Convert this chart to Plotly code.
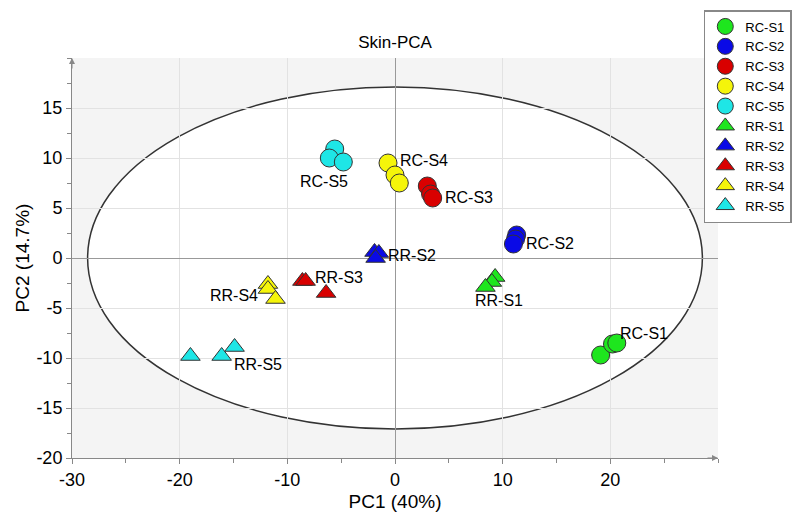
import plotly.graph_objects as go

# ---------------- data ----------------
groups = ["RC-S1", "RC-S2", "RC-S3", "RC-S4", "RC-S5",
          "RR-S1", "RR-S2", "RR-S3", "RR-S4", "RR-S5"]

rc_s1_x = [19.1, 20.2, 20.6]
rc_s1_y = [-9.7, -8.6, -8.5]
rc_s2_x = [11.3, 11.2, 11.0]
rc_s2_y = [2.3, 1.9, 1.4]
rc_s3_x = [3.0, 3.3, 3.5]
rc_s3_y = [7.2, 6.4, 6.0]
rc_s4_x = [-0.65, 0.0, 0.4]
rc_s4_y = [9.5, 8.3, 7.5]
rc_s5_x = [-5.6, -6.1, -4.8]
rc_s5_y = [10.9, 10.0, 9.6]

rr_s1_x = [9.3, 9.0, 8.4]
rr_s1_y = [-1.9, -2.4, -2.9]
rr_s2_x = [-1.9, -1.5, -1.8]
rr_s2_y = [0.6, 0.5, 0.0]
rr_s3_x = [-8.6, -8.3, -6.4]
rr_s3_y = [-2.3, -2.3, -3.5]
rr_s4_x = [-11.8, -11.8, -11.1]
rr_s4_y = [-2.6, -3.1, -4.1]
rr_s5_x = [-19.0, -16.1, -14.9]
rr_s5_y = [-9.8, -9.8, -8.9]

xs = [rc_s1_x, rc_s2_x, rc_s3_x, rc_s4_x, rc_s5_x,
      rr_s1_x, rr_s2_x, rr_s3_x, rr_s4_x, rr_s5_x]
ys = [rc_s1_y, rc_s2_y, rc_s3_y, rc_s4_y, rc_s5_y,
      rr_s1_y, rr_s2_y, rr_s3_y, rr_s4_y, rr_s5_y]

# label anchor positions (data coords)
label_x = [23.1, 14.4, 6.9, 2.7, -6.6, 9.65, 1.6, -5.2, -15.0, -12.7]
label_y = [-7.5, 1.5, 6.1, 9.8, 7.7, -4.2, 0.3, -1.9, -3.7, -10.6]

ellipse_a = 28.55
ellipse_b = 17.1

x_ticks = [-30, -20, -10, 0, 10, 20]
y_ticks = [-20, -15, -10, -5, 0, 5, 10, 15]

# ---------------- style ----------------
colors = ["#1ee61e", "#0a0ae6", "#d90000", "#f5f50a", "#1ee6e6"]
FONT = "Liberation Sans, Arial, sans-serif"

fig = go.Figure()

for i, name in enumerate(groups):
    is_rc = name.startswith("RC")
    fig.add_trace(go.Scatter(
        x=xs[i], y=ys[i], mode="markers", name=name,
        marker=dict(
            symbol="circle" if is_rc else "triangle-up",
            size=18 if is_rc else 17,
            color=colors[i % 5],
            line=dict(color="#333333", width=1),
        ),
    ))

for i, name in enumerate(groups):
    fig.add_annotation(x=label_x[i], y=label_y[i], text=name, showarrow=False,
                       xref="x", yref="y", font=dict(size=16, color="black", family=FONT),
                       xanchor="center", yanchor="middle")

# Hotelling ellipse (white interior)
fig.add_shape(type="circle", xref="x", yref="y",
              x0=-ellipse_a, x1=ellipse_a, y0=-ellipse_b, y1=ellipse_b,
              fillcolor="white", line=dict(color="#333333", width=1.5), layer="below")

# axis arrows
fig.add_annotation(xref="paper", yref="paper", x=0, y=1.0, ax=0, ay=12,
                   axref="pixel", ayref="pixel", text="", showarrow=True,
                   arrowhead=2, arrowsize=1.2, arrowwidth=1, arrowcolor="#888888")
fig.add_annotation(xref="paper", yref="paper", x=1.0, y=0, ax=-12, ay=0,
                   text="", showarrow=True,
                   arrowhead=2, arrowsize=1.2, arrowwidth=1, arrowcolor="#888888")

fig.update_layout(
    width=800, height=520,
    margin=dict(l=64, r=90, t=50, b=70, autoexpand=False),
    paper_bgcolor="white",
    plot_bgcolor="#f4f4f4",
    font=dict(family=FONT, color="black"),
    title=dict(text="Skin-PCA", x=0.5, xref="paper", xanchor="center",
               y=1 - 34 / 520, yref="container", yanchor="middle",
               font=dict(size=17, color="black", family=FONT)),
    showlegend=True,
    legend=dict(
        x=0.978, y=1.12, xanchor="left", yanchor="top",
        bgcolor="white", bordercolor="#888888", borderwidth=1.5,
        font=dict(size=13, color="black", family=FONT),
        itemwidth=30, tracegroupgap=0,
    ),
    xaxis=dict(
        range=[-30, 30], tickvals=x_ticks, ticktext=[str(v) for v in x_ticks],
        showgrid=True, gridcolor="#e2e2e2", gridwidth=1,
        zeroline=True, zerolinecolor="#999999", zerolinewidth=1,
        showline=True, linecolor="#888888", linewidth=1,
        ticks="outside", ticklen=5, tickcolor="#888888",
        minor=dict(dtick=5, tick0=0, ticks="outside", ticklen=4, tickcolor="#888888", showgrid=False),
        tickfont=dict(size=18, color="black", family=FONT),
        title=dict(text="PC1 (40%)", font=dict(size=19, color="black", family=FONT), standoff=6),
    ),
    yaxis=dict(
        range=[-20, 20], tickvals=y_ticks, ticktext=[str(v) for v in y_ticks],
        showgrid=True, gridcolor="#e2e2e2", gridwidth=1,
        zeroline=True, zerolinecolor="#999999", zerolinewidth=1,
        showline=True, linecolor="#888888", linewidth=1,
        ticks="outside", ticklen=5, tickcolor="#888888",
        minor=dict(dtick=2.5, tick0=0, ticks="outside", ticklen=4, tickcolor="#888888", showgrid=False),
        tickfont=dict(size=18, color="black", family=FONT),
        title=dict(text="PC2 (14.7%)", font=dict(size=19, color="black", family=FONT), standoff=1),
    ),
)

fig.write_html("out.html")
